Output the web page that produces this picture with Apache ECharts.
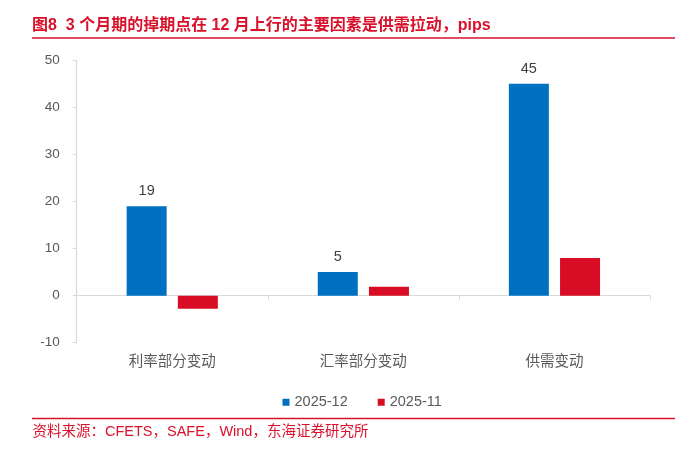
<!DOCTYPE html>
<html>
<head>
<meta charset="utf-8">
<script src="https://cdn.jsdelivr.net/npm/echarts@6/dist/echarts.min.js"></script>
<style>
  html, body { margin: 0; padding: 0; background: #fff; }
  #figurecontainer { width: 687px; height: 449px; }
</style>
</head>
<body>
<div id="figurecontainer"></div>
<script>
	// 数据
	var categories = ['利率部分变动', '汇率部分变动', '供需变动'];
	var seriesNames = ['2025-12', '2025-11'];
	var dec2025 = [19, 5, 45];
	var nov2025 = [-2.8, 1.9, 8];
	var yTicks = [-10, 0, 10, 20, 30, 40, 50];

	var FONT = '"Liberation Sans", Arial, "Noto Sans CJK SC", sans-serif';
	var RED = '#D9112B';
	var BLUE = '#0070C0';
	var BAR_RED = '#D80C24';
	var GRAY = '#595959';

	var dom = document.getElementById('figurecontainer');
	var myChart = echarts.init(dom);

	var option = {
		animation: false,
		textStyle: { fontFamily: FONT },
		title: {
			text: '图8  3 个月期的掉期点在 12 月上行的主要因素是供需拉动，pips',
			left: 32,
			top: 17.5,
			padding: 0,
			textStyle: { color: RED, fontSize: 16, fontWeight: 'bold', fontFamily: FONT }
		},
		graphic: [
			{ type: 'line', shape: { x1: 32, y1: 38, x2: 675, y2: 38 }, style: { stroke: RED, lineWidth: 1.5 } },
			{ type: 'line', shape: { x1: 32, y1: 418.5, x2: 675, y2: 418.5 }, style: { stroke: RED, lineWidth: 1.5 } },
			{ type: 'text', left: 32.5, top: 424.5, style: { text: '资料来源：CFETS，SAFE，Wind，东海证券研究所', fill: RED, font: '14.5px ' + FONT } }
		],
		legend: {
			data: seriesNames,
			left: 277.5,
			top: 390,
			icon: 'rect',
			itemWidth: 7,
			itemHeight: 7,
			itemGap: 30,
			textStyle: { color: GRAY, fontSize: 14.5, fontFamily: FONT }
		},
		grid: { left: 76.7, right: 37, top: 60.3, bottom: 106.3, containLabel: false },
		xAxis: [
			{
				type: 'category',
				data: categories,
				position: 'bottom',
				axisLine: { show: false, onZero: false },
				axisTick: { show: false },
				axisLabel: { color: GRAY, fontSize: 14.5, margin: 12, fontFamily: FONT }
			},
			{
				type: 'category',
				data: categories,
				position: 'bottom',
				axisLine: { show: true, onZero: true, lineStyle: { color: '#D9D9D9', width: 1.2 } },
				axisTick: { show: true, length: 4, lineStyle: { color: '#D9D9D9' } },
				axisLabel: { show: false }
			}
		],
		yAxis: {
			type: 'value',
			min: yTicks[0],
			max: yTicks[yTicks.length - 1],
			interval: 10,
			axisLine: { show: true, lineStyle: { color: '#D9D9D9', width: 1.2 } },
			axisTick: { show: true, length: 4, lineStyle: { color: '#D9D9D9' } },
			splitLine: { show: false },
			axisLabel: { color: GRAY, fontSize: 13.5, margin: 17, fontFamily: FONT }
		},
		series: [
			{
				name: seriesNames[0],
				type: 'bar',
				xAxisIndex: 0,
				data: dec2025,
				barWidth: 40,
				barGap: '28%',
				itemStyle: { color: BLUE },
				label: { show: true, position: 'top', distance: 8, color: '#404040', fontSize: 14.5, fontFamily: FONT }
			},
			{
				name: seriesNames[1],
				type: 'bar',
				xAxisIndex: 0,
				data: nov2025,
				barWidth: 40,
				barGap: '28%',
				itemStyle: { color: BAR_RED }
			}
		]
	};
	myChart.setOption(option);
</script>
</body>
</html>
